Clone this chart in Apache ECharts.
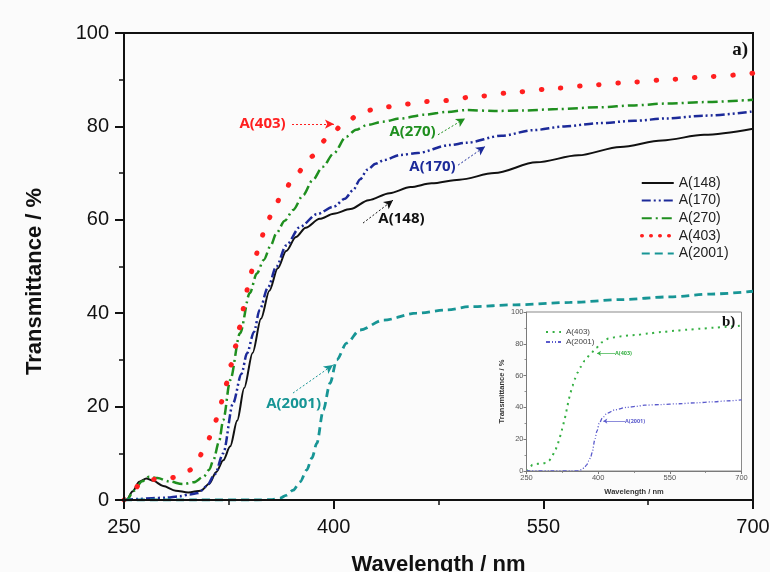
<!DOCTYPE html>
<html>
<head>
<meta charset="utf-8">
<script src="https://cdn.jsdelivr.net/npm/echarts@6/dist/echarts.min.js"></script>
<style>
  html, body { margin: 0; padding: 0; background: #fbfbfb; }
  #chart { width: 770px; height: 572px; }
</style>
</head>
<body>
<div id="chart"></div>
<script>
// Axis ticks (nm and %)
const xTicks = [250, 400, 550, 700];
const yTicks = [0, 20, 40, 60, 80, 100];

// Sample names
const names = ['A(148)', 'A(170)', 'A(270)', 'A(403)', 'A(2001)'];

// A(148)
const wl148 = [250, 252, 256, 261, 266, 271, 278, 287, 296, 305, 311, 316, 321, 326, 331, 336, 342, 348, 354, 360, 366, 373, 380, 390, 400, 412, 425, 440, 455, 470, 490, 515, 545, 575, 605, 635, 665, 700];
const t148  = [0, 0, 1.8, 3.9, 4.6, 4.1, 3.0, 2.0, 1.6, 2.0, 3.5, 6.0, 8.5, 11.5, 17, 24, 31.5, 38.8, 44.8, 49.6, 53.3, 56.3, 58.3, 60.2, 61.3, 62.3, 64.2, 65.7, 67, 67.8, 68.6, 70, 72.3, 73.8, 75.6, 77, 78.2, 79.5];

// A(170)
const wl170 = [250, 260, 270, 280, 290, 297, 303, 309, 315, 321, 328, 334, 338, 343, 347, 353, 359, 366, 376, 388, 400, 408, 414, 419, 424, 430, 436, 448, 460, 483, 495, 520, 543, 565, 590, 615, 638, 665, 700];
const t170  = [0, 0.2, 0.4, 0.5, 0.8, 1.2, 1.5, 2.9, 5.5, 10, 20.7, 27, 31.4, 36, 40.7, 45.5, 50, 54.5, 58.5, 61.2, 62.8, 64.5, 66.4, 68.7, 70.7, 72, 72.8, 73.9, 74.3, 76, 76.5, 78, 79.2, 80, 80.7, 81.2, 81.7, 82.3, 83.2];

// A(270)
const wl270 = [250, 252, 257, 263, 268, 274, 282, 292, 300, 307, 311, 314, 318, 321, 326, 333, 340, 345, 350, 355, 359, 365, 371, 378, 385, 392, 400, 409, 416, 424, 435, 448, 465, 481, 495, 515, 536, 560, 590, 615, 638, 665, 700];
const t270  = [0, 0, 2, 4, 5, 4.7, 4, 3.4, 3.8, 5, 6.5, 8.6, 12.5, 17.1, 25.7, 35.7, 44.3, 48.5, 51.4, 54.5, 57.1, 59.8, 62.1, 65.2, 68.5, 71.3, 74.2, 77.8, 79.3, 80.3, 81, 81.7, 82.5, 83.1, 83.5, 83.3, 83.4, 83.7, 84.1, 84.5, 84.9, 85.2, 85.7];

// A(403)
const wl403 = [250, 253, 257, 262.6, 270, 277, 284, 290, 297, 302.5, 309.6, 315, 319.2, 323, 326.5, 330, 333, 335.8, 338.5, 342, 346, 350.6, 356.3, 362.8, 372.3, 383.6, 395.5, 408.6, 421.9, 435.8, 449.6, 463.2, 477.3, 505, 532, 560, 587, 615, 641.8, 670, 700];
const t403  = [0, 0.5, 2.2, 3.9, 4.4, 4.6, 4.8, 5.0, 6.4, 8.6, 12.5, 16.6, 20.7, 24.8, 28.9, 33, 37.1, 41.3, 45.3, 49.4, 53.5, 57.7, 61.7, 65.3, 69.4, 73.5, 77.4, 81, 83.3, 84.1, 84.7, 85.3, 85.5, 86.5, 87.4, 88.2, 88.9, 89.5, 90.1, 90.7, 91.4];

// A(2001)
const wl2001 = [250, 300, 345, 356, 361.6, 366, 371, 376, 380.7, 384.5, 387.9, 392.6, 397.4, 402.2, 409.3, 418.8, 435.5, 459.4, 480.8, 497.5, 530, 569, 605, 640.6, 670, 700];
const t2001  = [0, 0, 0, 0.1, 0.4, 1.0, 2.1, 3.9, 6.4, 9.0, 12.1, 19.3, 25, 30, 33.6, 36.4, 38.5, 40, 40.7, 41.4, 41.8, 42.3, 42.9, 43.5, 44.1, 44.7];

const pair = (xs, ys) => xs.map((x, i) => [x, ys[i]]);

const FONT = '"Liberation Sans", Arial, sans-serif';
const NOTE_FONT = '"Open Sans", "Liberation Sans", sans-serif';
const SERIF = '"Liberation Serif", "DejaVu Serif", serif';

const C = {
  k: '#111111', navy: '#1c2a99', green: '#1f8f1f', red: '#ff1f1f', teal: '#179595',
  insetGreen: '#35b043', insetBlue: '#5a5acc'
};

// Callout: text at [x, y] plus an arrow from -> to (data coordinates)
function callout(color, text, at, from, to, opts) {
  opts = opts || {};
  return {
    markLine: {
      silent: true,
      symbol: opts.symbol || ['none', 'arrow'],
      symbolSize: opts.symbolSize || [7, 9],
      label: { show: false },
      lineStyle: { color: color, width: opts.width || 1, type: opts.type || [2, 2] },
      emphasis: { disabled: true },
      data: [[{ coord: from }, { coord: to }]]
    },
    markPoint: {
      silent: true,
      symbol: 'circle',
      symbolSize: 0,
      label: {
        show: true, position: opts.position || 'inside', distance: 0,
        formatter: text, color: color,
        fontFamily: NOTE_FONT, fontWeight: 'bold', fontSize: opts.fontSize || 15
      },
      data: [{ coord: at }]
    }
  };
}

function mainSeries(name, xs, ys, color, lineStyle, note) {
  return Object.assign({
    name: name, type: 'line', xAxisIndex: 0, yAxisIndex: 0,
    data: pair(xs, ys), symbol: 'none', smooth: 0.3, smoothMonotone: 'x',
    color: color,
    lineStyle: Object.assign({ color: color }, lineStyle),
    emphasis: { disabled: true }, z: 3
  }, note);
}

function insetSeries(name, xs, ys, color, lineStyle, note) {
  return Object.assign({
    name: name, type: 'line', xAxisIndex: 1, yAxisIndex: 1,
    data: pair(xs, ys), symbol: 'none', smooth: 0.3, smoothMonotone: 'x',
    color: color,
    lineStyle: Object.assign({ color: color }, lineStyle),
    emphasis: { disabled: true }, z: 6
  }, note);
}

const step = a => a[1] - a[0];

function valueAxis(ticks, grid, main) {
  const col = main ? '#111' : '#7a7a7a';
  return {
    type: 'value', gridIndex: grid,
    min: ticks[0], max: ticks[ticks.length - 1], interval: step(ticks),
    axisLine: { show: true, onZero: false, lineStyle: { color: col, width: main ? 2 : 1 } },
    axisTick: { show: true, inside: false, length: main ? 9 : 3, lineStyle: { color: col, width: main ? 2 : 1 } },
    minorTick: { show: true, splitNumber: 2, length: main ? 5 : 2, lineStyle: { color: col, width: main ? 1.5 : 0.8 } },
    splitLine: { show: false },
    axisLabel: {
      fontFamily: FONT, fontSize: main ? 20 : 7.5, color: main ? '#111' : '#555',
      margin: main ? 15 : 3
    },
    nameLocation: 'middle',
    nameTextStyle: { fontFamily: FONT, fontWeight: 'bold', fontSize: main ? 22 : 7.5, color: main ? '#111' : '#333' },
    z: main ? 4 : 7
  };
}

const xMain = Object.assign(valueAxis(xTicks, 0, true), { name: 'Wavelength / nm', nameGap: 54 });
xMain.axisLabel.margin = 17;
const yMain = Object.assign(valueAxis(yTicks, 0, true), { name: 'Transmittance / %', nameGap: 78 });
yMain.nameTextStyle.padding = [0, 30, 0, 0];
const xIn = Object.assign(valueAxis(xTicks, 1, false), { name: 'Wavelength / nm', nameGap: 17 });
const yIn = Object.assign(valueAxis(yTicks, 1, false), { name: 'Transmittance / %', nameGap: 21 });

const insetPrefix = 'b: ';
const hiddenMarker = { color: 'transparent', borderColor: 'transparent', borderWidth: 0 };

const option = {
  backgroundColor: '#fbfbfb',
  animation: false,
  grid: [
    { left: 124, top: 33, width: 629, height: 467, show: true, borderColor: '#111', borderWidth: 2,
      backgroundColor: 'transparent', containLabel: false, outerBoundsMode: 'none' },
    { left: 526.5, top: 312, width: 215, height: 159, show: true, borderColor: '#8a8a8a', borderWidth: 1,
      backgroundColor: '#ffffff', z: 5, containLabel: false, outerBoundsMode: 'none' }
  ],
  xAxis: [xMain, xIn],
  yAxis: [yMain, yIn],
  legend: [
    {
      data: names.map(n => n === 'A(403)'
        ? { name: n, lineStyle: { width: 3.5, type: [0.5, 8.5], cap: 'round' } }
        : { name: n }),
      orient: 'vertical', left: 635, top: 171,
      itemWidth: 32, itemHeight: 14, itemGap: 3.6,
      itemStyle: hiddenMarker,
      textStyle: { fontFamily: FONT, fontSize: 14, color: '#222', lineHeight: 14 },
      selectedMode: false
    },
    {
      data: [insetPrefix + 'A(403)', insetPrefix + 'A(2001)'], orient: 'vertical', left: 540, top: 323,
      itemWidth: 15, itemHeight: 8, itemGap: 2, z: 8,
      itemStyle: hiddenMarker,
      formatter: n => n.slice(insetPrefix.length),
      textStyle: { fontFamily: FONT, fontSize: 8, color: '#444', lineHeight: 8 },
      selectedMode: false
    }
  ],
  graphic: [
    { type: 'text', right: 22, top: 41, z: 10, style: { text: 'a)', font: 'bold 19px ' + SERIF, fill: '#111' } },
    { type: 'text', left: 722, top: 315, z: 10, style: { text: 'b)', font: 'bold 15px ' + SERIF, fill: '#111' } }
  ],
  series: [
    mainSeries('A(148)', wl148, t148, C.k, { width: 2 },
      callout(C.k, 'A(148)', [448.5, 60.2], [421, 59.3], [442.4, 64.2])),
    mainSeries('A(170)', wl170, t170, C.navy, { width: 2.5, type: [9, 3, 2, 3, 2, 3] },
      callout(C.navy, 'A(170)', [470.7, 71.4], [489, 71.7], [508.3, 75.7])),
    mainSeries('A(270)', wl270, t270, C.green, { width: 2.5, type: [10, 4, 2, 4] },
      callout(C.green, 'A(270)', [456.4, 78.9], [474.6, 78.2], [494, 81.7])),
    mainSeries('A(403)', wl403, t403, C.red, { width: 5, type: [0.5, 18.7], cap: 'round' },
      callout(C.red, 'A(403)', [349.1, 80.5], [370.2, 80.5], [400.2, 80.5])),
    mainSeries('A(2001)', wl2001, t2001, C.teal, { width: 2.8, type: [8, 5] },
      callout(C.teal, 'A(2001)', [371.3, 20.7], [370.9, 22.9], [399.5, 28.9])),
    insetSeries(insetPrefix + 'A(403)', wl403, t403, C.insetGreen, { width: 2, type: [2, 4.6] },
      callout(C.insetGreen, 'A(403)', [435.2, 74], [435.2, 74], [397.6, 74],
        { position: 'right', fontSize: 5.5, width: 0.7, type: 'solid', symbolSize: [4, 4] })),
    insetSeries(insetPrefix + 'A(2001)', wl2001, t2001, C.insetBlue, { width: 1.3, type: [4, 2, 1, 2, 1, 2] },
      callout(C.insetBlue, 'A(2001)', [456.2, 31.4], [456.2, 31.4], [410.7, 31.4],
        { position: 'right', fontSize: 5.5, width: 0.7, type: 'solid', symbolSize: [4, 4] }))
  ]
};

const chart = echarts.init(document.getElementById('chart'), null, { renderer: 'canvas' });
chart.setOption(option);
</script>
</body>
</html>
